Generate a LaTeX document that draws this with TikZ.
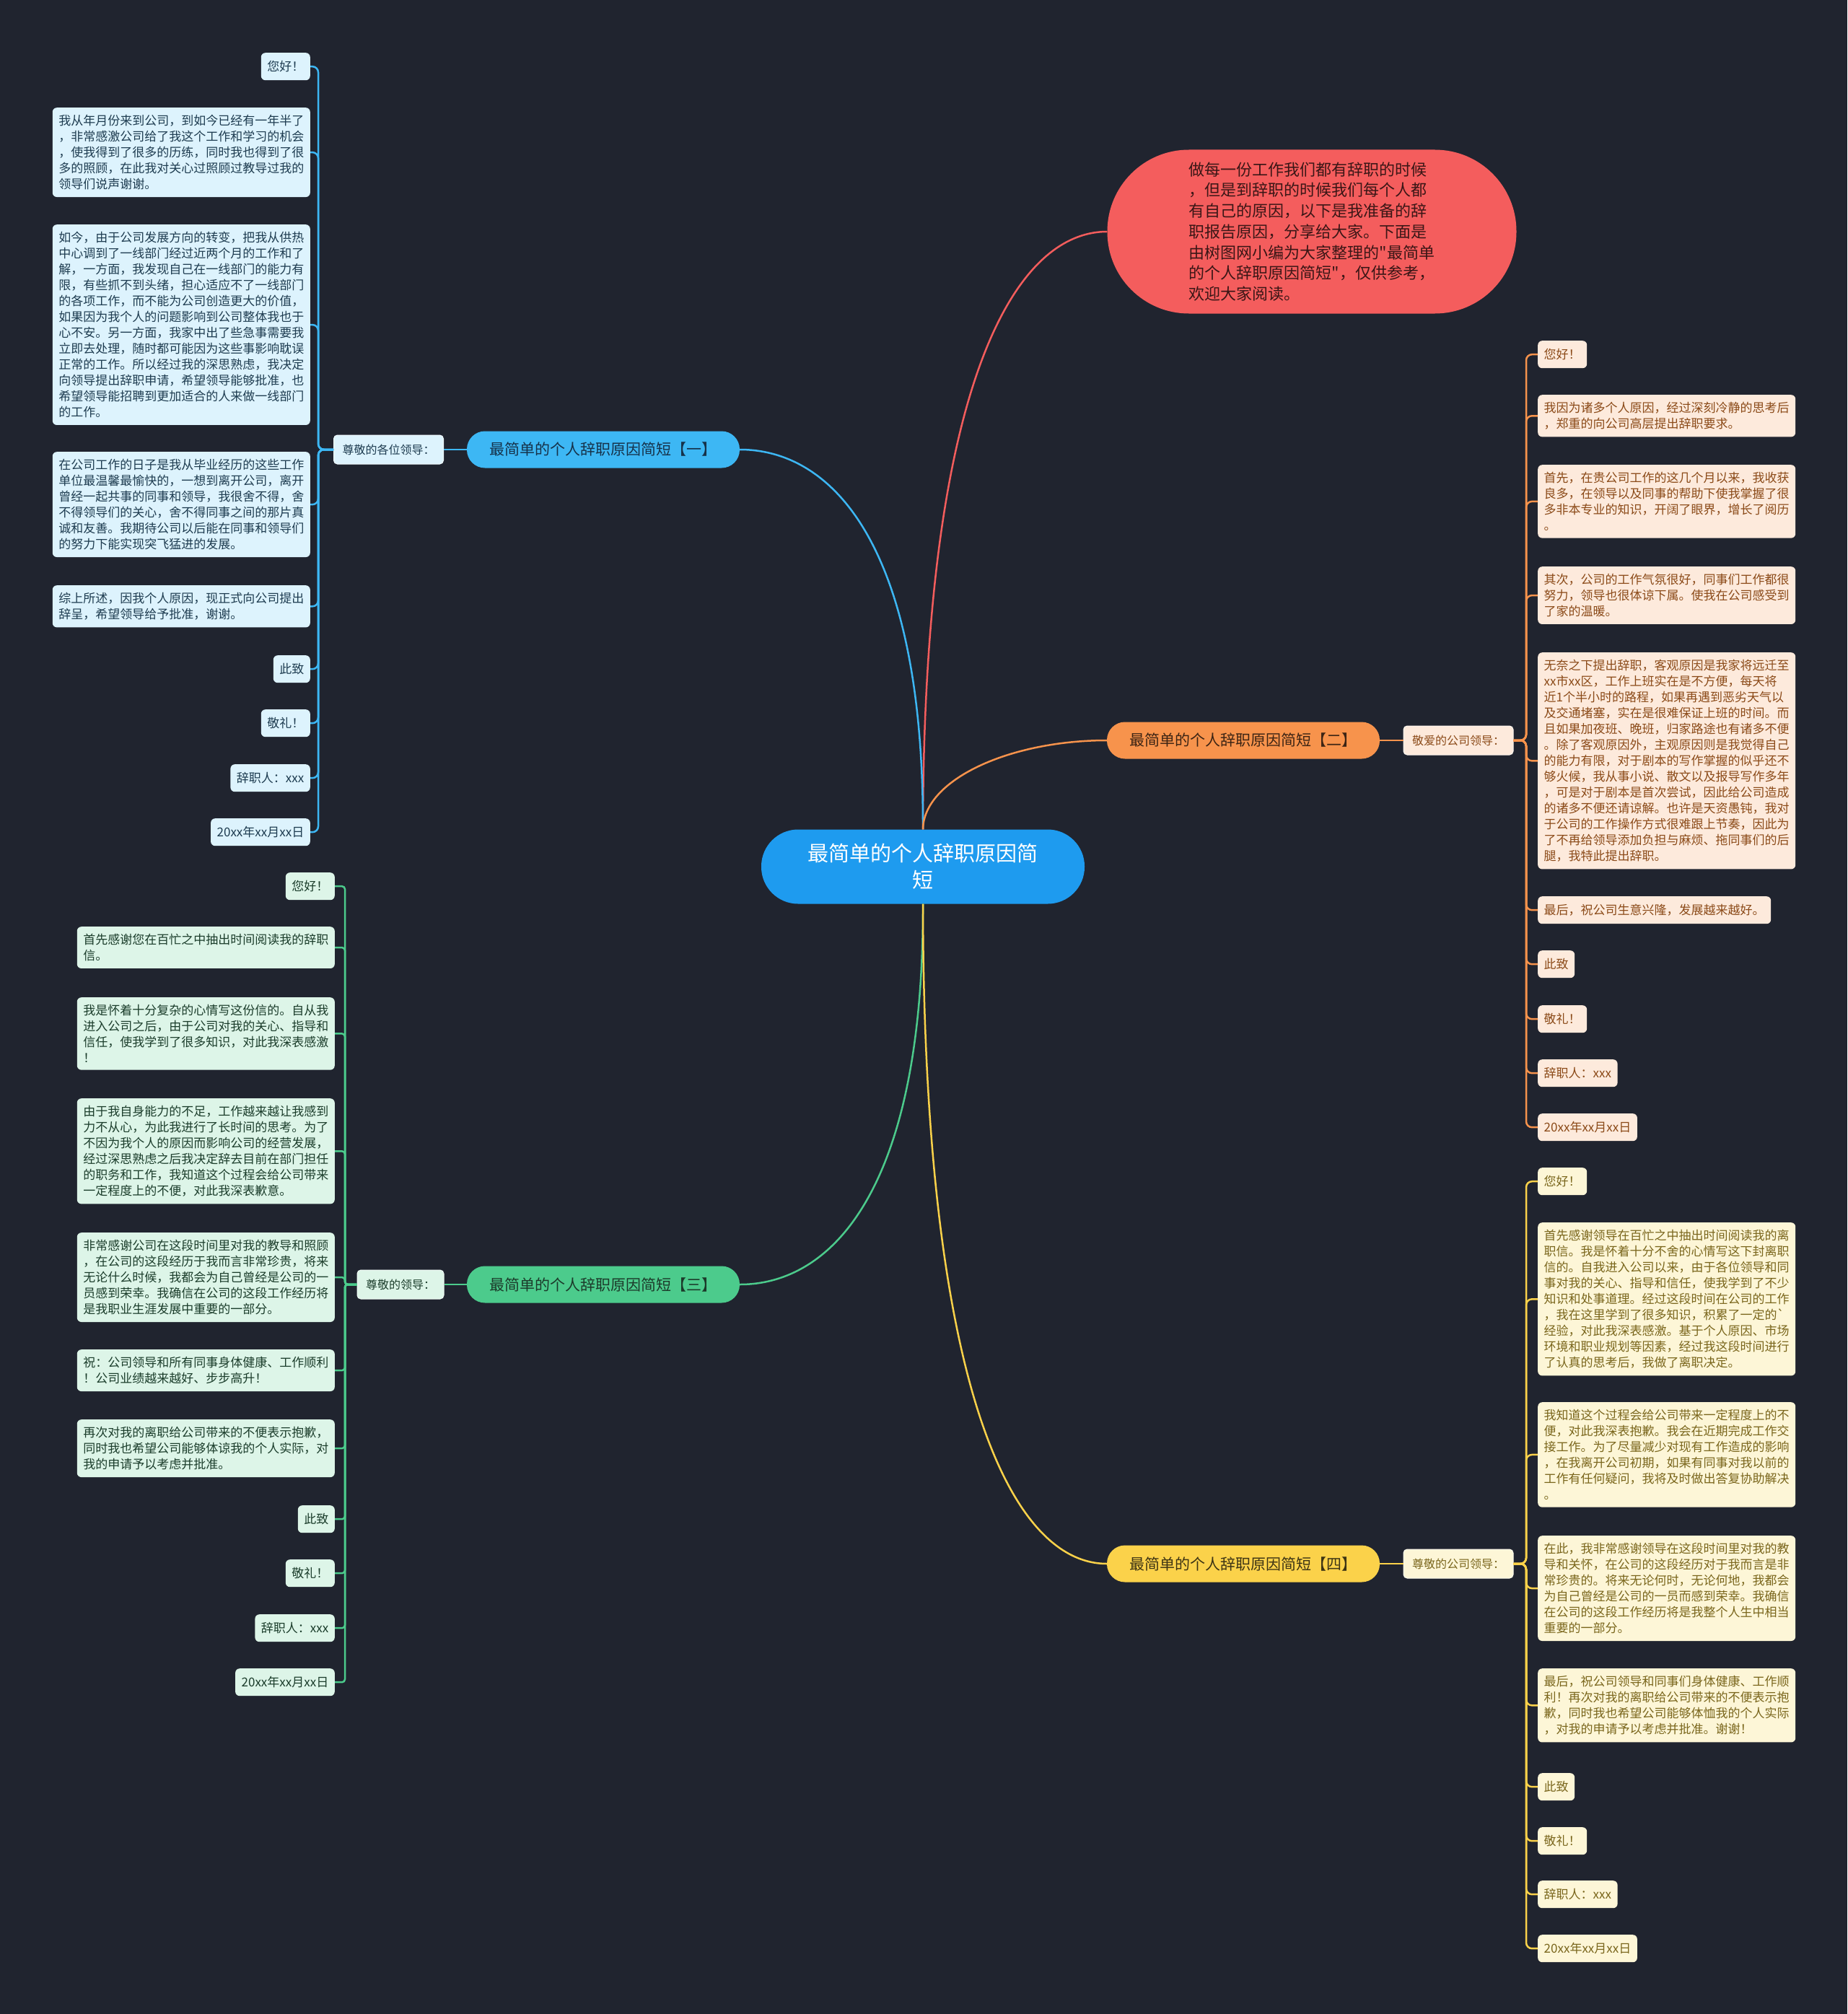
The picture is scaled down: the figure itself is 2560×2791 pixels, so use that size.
\documentclass[tikz,border=0pt]{standalone}
\usepackage{fontspec}
\setmainfont{Noto Sans CJK SC}[Ligatures=TeXOff]
\usetikzlibrary{calc}
\definecolor{bg}{HTML}{20242F}
\definecolor{cRoot}{HTML}{1E9BEF}
\definecolor{cRed}{HTML}{F45D5D}
\definecolor{cRedT}{HTML}{3A1616}
\definecolor{bB}{HTML}{3DB7F4}
\definecolor{bBT}{HTML}{16324A}
\definecolor{fB}{HTML}{DDF3FD}
\definecolor{tB}{HTML}{1E3C50}
\definecolor{bO}{HTML}{F7934C}
\definecolor{bOT}{HTML}{3C2414}
\definecolor{fO}{HTML}{FDEADC}
\definecolor{tO}{HTML}{8B4A18}
\definecolor{bG}{HTML}{4CCB8C}
\definecolor{bGT}{HTML}{1C3A2A}
\definecolor{fG}{HTML}{DDF5E8}
\definecolor{tG}{HTML}{1B3D2B}
\definecolor{bY}{HTML}{FBD24A}
\definecolor{bYT}{HTML}{3D3414}
\definecolor{fY}{HTML}{FDF6D7}
\definecolor{tY}{HTML}{7A661C}
\tikzset{
  rootnode/.style={fill=cRoot, text=white, rounded corners=51pt, minimum width=448pt, minimum height=103pt, align=center, font=\fontsize{29}{37}\selectfont},
  intronode/.style={fill=cRed, text=cRedT, rounded corners=113pt, minimum width=567pt, minimum height=227pt, align=left, font=\fontsize{22}{28.7}\selectfont},
  brnode/.style={rounded corners=25pt, minimum width=378pt, minimum height=51pt, font=\fontsize{21}{25}\selectfont},
  labnode/.style={rounded corners=5pt, minimum height=40pt, inner xsep=12pt, font=\fontsize{16}{20}\selectfont, line width=1pt},
  leaf/.style={rounded corners=6pt, inner xsep=8.5pt, inner ysep=10pt, font=\fontsize{17}{22}\selectfont, align=left},
  shortleaf/.style={leaf, minimum height=38pt},
  para/.style={leaf, text width=340pt},
  blueset/.style={fill=fB, text=tB},
  orangeset/.style={fill=fO, text=tO},
  greenset/.style={fill=fG, text=tG},
  yellowset/.style={fill=fY, text=tY},
  mainline/.style={line width=2.5pt},
  busline/.style={line width=2.5pt, rounded corners=8pt},
}
\begin{document}
\begin{tikzpicture}[x=1pt,y=-1pt]
\useasboundingbox (0,0) rectangle (2560,2791);
\fill[bg] (0,0) rectangle (2560,2791);

% central and intro
\node[rootnode] (root) at (1279,1201) {最简单的个人辞职原因简\\短};
\node[intronode] (intro) at (1818,321) {做每一份工作我们都有辞职的时候\\，但是到辞职的时候我们每个人都\\有自己的原因，以下是我准备的辞\\职报告原因，分享给大家。下面是\\由树图网小编为大家整理的"最简单\\的个人辞职原因简短"，仅供参考，\\欢迎大家阅读。};

% branches
\node[brnode, fill=bB, text=bBT] (br1) at (836,623) {最简单的个人辞职原因简短【一】};
\node[brnode, fill=bO, text=bOT] (br2) at (1723,1026) {最简单的个人辞职原因简短【二】};
\node[brnode, fill=bG, text=bGT] (br3) at (836,1780) {最简单的个人辞职原因简短【三】};
\node[brnode, fill=bY, text=bYT] (br4) at (1723,2167) {最简单的个人辞职原因简短【四】};

% labels
\node[labnode, blueset, draw=white!60!fB] (lab1) at (538.5,623) {尊敬的各位领导：};
\node[labnode, orangeset, draw=white!60!fO] (lab2) at (2021,1026) {敬爱的公司领导：};
\node[labnode, greenset, draw=white!60!fG] (lab3) at (555,1780) {尊敬的领导：};
\node[labnode, yellowset, draw=white!60!fY] (lab4) at (2021,2167) {尊敬的公司领导：};

% main connectors
\draw[mainline, cRed] (root.north) .. controls (1280,529) and (1407,321) .. (intro.west);
\draw[mainline, bB] (root.north) .. controls (1280,755) and (1153,623) .. (br1.east);
\draw[mainline, bO] (root.north) .. controls (1280,1080) and (1400,1026) .. (br2.west);
\draw[mainline, bG] (root.south) .. controls (1280,1648) and (1153,1780) .. (br3.east);
\draw[mainline, bY] (root.south) .. controls (1280,1939) and (1407,2167) .. (br4.west);

\draw[mainline, bB] (br1.west) -- (lab1.east);
\draw[mainline, bO] (br2.east) -- (lab2.west);
\draw[mainline, bG] (br3.west) -- (lab3.east);
\draw[mainline, bY] (br4.east) -- (lab4.west);

% ---------- group 1 (blue) ----------
\node[shortleaf, blueset, anchor=north east] (a1) at (430,73) {您好！};
\node[para, blueset, anchor=north east] (a2) at (430,149) {我从年月份来到公司，到如今已经有一年半了\\，非常感激公司给了我这个工作和学习的机会\\，使我得到了很多的历练，同时我也得到了很\\多的照顾，在此我对关心过照顾过教导过我的\\领导们说声谢谢。};
\node[para, blueset, anchor=north east] (a3) at (430,311) {如今，由于公司发展方向的转变，把我从供热\\中心调到了一线部门经过近两个月的工作和了\\解，一方面，我发现自己在一线部门的能力有\\限，有些抓不到头绪，担心适应不了一线部门\\的各项工作，而不能为公司创造更大的价值，\\如果因为我个人的问题影响到公司整体我也于\\心不安。另一方面，我家中出了些急事需要我\\立即去处理，随时都可能因为这些事影响耽误\\正常的工作。所以经过我的深思熟虑，我决定\\向领导提出辞职申请，希望领导能够批准，也\\希望领导能招聘到更加适合的人来做一线部门\\的工作。};
\node[para, blueset, anchor=north east] (a4) at (430,626) {在公司工作的日子是我从毕业经历的这些工作\\单位最温馨最愉快的，一想到离开公司，离开\\曾经一起共事的同事和领导，我很舍不得，舍\\不得领导们的关心，舍不得同事之间的那片真\\诚和友善。我期待公司以后能在同事和领导们\\的努力下能实现突飞猛进的发展。};
\node[para, blueset, anchor=north east] (a5) at (430,811) {综上所述，因我个人原因，现正式向公司提出\\辞呈，希望领导给予批准，谢谢。};
\node[shortleaf, blueset, anchor=north east] (a6) at (430,908) {此致};
\node[shortleaf, blueset, anchor=north east] (a7) at (430,983) {敬礼！};
\node[shortleaf, blueset, anchor=north east] (a8) at (430,1059) {辞职人：xxx};
\node[shortleaf, blueset, anchor=north east] (a9) at (430,1134) {20xx年xx月xx日};
\coordinate (jA) at (441,623);
\foreach \n in {a1,a2,a3,a4,a5,a6,a7,a8,a9}
  \draw[busline, bB] (lab1.west) -- (jA) |- (\n.east);

% ---------- group 2 (orange) ----------
\node[shortleaf, orangeset, anchor=north west] (b1) at (2131,472) {您好！};
\node[para, orangeset, anchor=north west] (b2) at (2131,547) {我因为诸多个人原因，经过深刻冷静的思考后\\，郑重的向公司高层提出辞职要求。};
\node[para, orangeset, anchor=north west] (b3) at (2131,644) {首先，在贵公司工作的这几个月以来，我收获\\良多，在领导以及同事的帮助下使我掌握了很\\多非本专业的知识，开阔了眼界，增长了阅历\\。};
\node[para, orangeset, anchor=north west] (b4) at (2131,785) {其次，公司的工作气氛很好，同事们工作都很\\努力，领导也很体谅下属。使我在公司感受到\\了家的温暖。};
\node[para, orangeset, anchor=north west] (b5) at (2131,904) {无奈之下提出辞职，客观原因是我家将远迁至\\xx市xx区，工作上班实在是不方便，每天将\\近1个半小时的路程，如果再遇到恶劣天气以\\及交通堵塞，实在是很难保证上班的时间。而\\且如果加夜班、晚班，归家路途也有诸多不便\\。除了客观原因外，主观原因则是我觉得自己\\的能力有限，对于剧本的写作掌握的似乎还不\\够火候，我从事小说、散文以及报导写作多年\\，可是对于剧本是首次尝试，因此给公司造成\\的诸多不便还请谅解。也许是天资愚钝，我对\\于公司的工作操作方式很难跟上节奏，因此为\\了不再给领导添加负担与麻烦、拖同事们的后\\腿，我特此提出辞职。};
\node[shortleaf, orangeset, anchor=north west] (b6) at (2131,1242) {最后，祝公司生意兴隆，发展越来越好。};
\node[shortleaf, orangeset, anchor=north west] (b7) at (2131,1317) {此致};
\node[shortleaf, orangeset, anchor=north west] (b8) at (2131,1393) {敬礼！};
\node[shortleaf, orangeset, anchor=north west] (b9) at (2131,1468) {辞职人：xxx};
\node[shortleaf, orangeset, anchor=north west] (b10) at (2131,1543) {20xx年xx月xx日};
\coordinate (jB) at (2115,1026);
\foreach \n in {b1,b2,b3,b4,b5,b6,b7,b8,b9,b10}
  \draw[busline, bO] (lab2.east) -- (jB) |- (\n.west);

% ---------- group 3 (green) ----------
\node[shortleaf, greenset, anchor=north east] (c1) at (464,1209) {您好！};
\node[para, greenset, anchor=north east] (c2) at (464,1284) {首先感谢您在百忙之中抽出时间阅读我的辞职\\信。};
\node[para, greenset, anchor=north east] (c3) at (464,1382) {我是怀着十分复杂的心情写这份信的。自从我\\进入公司之后，由于公司对我的关心、指导和\\信任，使我学到了很多知识，对此我深表感激\\！};
\node[para, greenset, anchor=north east] (c4) at (464,1522) {由于我自身能力的不足，工作越来越让我感到\\力不从心，为此我进行了长时间的思考。为了\\不因为我个人的原因而影响公司的经营发展，\\经过深思熟虑之后我决定辞去目前在部门担任\\的职务和工作，我知道这个过程会给公司带来\\一定程度上的不便，对此我深表歉意。};
\node[para, greenset, anchor=north east] (c5) at (464,1708) {非常感谢公司在这段时间里对我的教导和照顾\\，在公司的这段经历于我而言非常珍贵，将来\\无论什么时候，我都会为自己曾经是公司的一\\员感到荣幸。我确信在公司的这段工作经历将\\是我职业生涯发展中重要的一部分。};
\node[para, greenset, anchor=north east] (c6) at (464,1870) {祝：公司领导和所有同事身体健康、工作顺利\\！公司业绩越来越好、步步高升！};
\node[para, greenset, anchor=north east] (c7) at (464,1967) {再次对我的离职给公司带来的不便表示抱歉，\\同时我也希望公司能够体谅我的个人实际，对\\我的申请予以考虑并批准。};
\node[shortleaf, greenset, anchor=north east] (c8) at (464,2086) {此致};
\node[shortleaf, greenset, anchor=north east] (c9) at (464,2161) {敬礼！};
\node[shortleaf, greenset, anchor=north east] (c10) at (464,2237) {辞职人：xxx};
\node[shortleaf, greenset, anchor=north east] (c11) at (464,2312) {20xx年xx月xx日};
\coordinate (jC) at (478,1780);
\foreach \n in {c1,c2,c3,c4,c5,c6,c7,c8,c9,c10,c11}
  \draw[busline, bG, rounded corners=4pt] (lab3.west) -- (jC) |- (\n.east);

% ---------- group 4 (yellow) ----------
\node[shortleaf, yellowset, anchor=north west] (d1) at (2131,1618) {您好！};
\node[para, yellowset, anchor=north west] (d2) at (2131,1694) {首先感谢领导在百忙之中抽出时间阅读我的离\\职信。我是怀着十分不舍的心情写这下封离职\\信的。自我进入公司以来，由于各位领导和同\\事对我的关心、指导和信任，使我学到了不少\\知识和处事道理。经过这段时间在公司的工作\\，我在这里学到了很多知识，积累了一定的`\\经验，对此我深表感激。基于个人原因、市场\\环境和职业规划等因素，经过我这段时间进行\\了认真的思考后，我做了离职决定。};
\node[para, yellowset, anchor=north west] (d3) at (2131,1943) {我知道这个过程会给公司带来一定程度上的不\\便，对此我深表抱歉。我会在近期完成工作交\\接工作。为了尽量减少对现有工作造成的影响\\，在我离开公司初期，如果有同事对我以前的\\工作有任何疑问，我将及时做出答复协助解决\\。};
\node[para, yellowset, anchor=north west] (d4) at (2131,2128) {在此，我非常感谢领导在这段时间里对我的教\\导和关怀，在公司的这段经历对于我而言是非\\常珍贵的。将来无论何时，无论何地，我都会\\为自己曾经是公司的一员而感到荣幸。我确信\\在公司的这段工作经历将是我整个人生中相当\\重要的一部分。};
\node[para, yellowset, anchor=north west] (d5) at (2131,2312) {最后，祝公司领导和同事们身体健康、工作顺\\利！再次对我的离职给公司带来的不便表示抱\\歉，同时我也希望公司能够体恤我的个人实际\\，对我的申请予以考虑并批准。谢谢！};
\node[shortleaf, yellowset, anchor=north west] (d6) at (2131,2457) {此致};
\node[shortleaf, yellowset, anchor=north west] (d7) at (2131,2532) {敬礼！};
\node[shortleaf, yellowset, anchor=north west] (d8) at (2131,2606) {辞职人：xxx};
\node[shortleaf, yellowset, anchor=north west] (d9) at (2131,2681) {20xx年xx月xx日};
\coordinate (jD) at (2115,2167);
\foreach \n in {d1,d2,d3,d4,d5,d6,d7,d8,d9}
  \draw[busline, bY] (lab4.east) -- (jD) |- (\n.west);
\end{tikzpicture}
\end{document}
